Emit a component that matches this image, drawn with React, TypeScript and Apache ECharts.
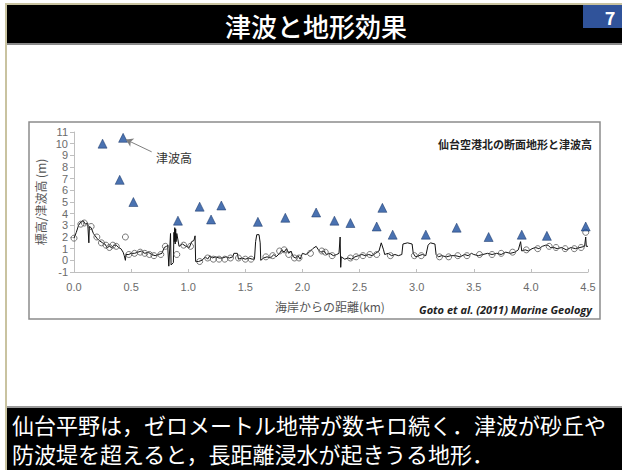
import React, { useEffect, useRef } from "react";
import * as echarts from "echarts";

// Ground elevation profile along the transect: [distance from coast (km), elevation (m)]
const terrainProfile: [number, number][] = [
  [0.0, 1.9], [0.02, 2.4], [0.04, 3.0], [0.06, 3.3], [0.08, 3.4], [0.1, 3.1], [0.12, 3.2],
  [0.13, 1.5], [0.135, 2.9], [0.15, 2.8], [0.17, 2.3], [0.2, 1.9], [0.22, 1.7], [0.25, 1.5],
  [0.27, 1.4], [0.29, 1.1], [0.31, 1.2], [0.33, 1.1], [0.35, 1.3], [0.37, 1.3], [0.39, 1.1],
  [0.41, 1.0], [0.43, 0.7], [0.44, 0.4], [0.45, 0.0], [0.455, 0.5], [0.48, 0.5], [0.5, 0.6],
  [0.53, 0.6], [0.56, 0.7], [0.59, 0.8], [0.62, 0.6], [0.65, 0.7], [0.68, 0.5], [0.71, 0.4],
  [0.74, 0.5], [0.77, 0.6], [0.79, 1.1], [0.81, 1.2], [0.82, 1.3], [0.83, -0.5], [0.845, 2.3],
  [0.85, -0.4], [0.87, -0.2], [0.875, 2.4], [0.878, 1.6], [0.882, 2.8], [0.886, 1.4], [0.89, 2.7],
  [0.894, 1.6], [0.9, 2.3], [0.92, 1.2], [0.95, 1.4], [0.98, 1.2], [1.01, 1.1], [1.03, 1.6],
  [1.05, 1.7], [1.06, 2.1], [1.065, -0.1], [1.09, -0.1], [1.12, 0.0], [1.15, 0.3], [1.17, 0.1],
  [1.19, 0.4], [1.21, 0.2], [1.24, 0.3], [1.27, 0.2], [1.3, 0.2], [1.33, 0.3], [1.36, 0.2],
  [1.39, 0.3], [1.4, 0.6], [1.43, 0.6], [1.44, 0.1], [1.47, 0.2], [1.5, 0.1], [1.53, 0.2],
  [1.56, 0.1], [1.58, 0.1], [1.59, 1.6], [1.6, 2.2], [1.62, 2.2], [1.63, 1.5], [1.635, 0.0],
  [1.66, 0.2], [1.69, 0.3], [1.72, 0.2], [1.75, 0.5], [1.77, 0.3], [1.8, 0.6], [1.82, 0.9],
  [1.84, 0.7], [1.86, 1.0], [1.88, 0.6], [1.9, 0.8], [1.92, 0.3], [1.94, 0.2], [1.96, 0.4],
  [1.98, 0.1], [2.0, 0.6], [2.03, 0.5], [2.06, 0.7], [2.09, 1.0], [2.12, 1.2], [2.14, 0.9],
  [2.16, 0.7], [2.19, 0.8], [2.21, 0.5], [2.24, 0.6], [2.27, 0.4], [2.3, 0.5], [2.32, 0.6],
  [2.33, 2.0], [2.335, -0.6], [2.34, 0.3], [2.37, 0.1], [2.4, 0.2], [2.43, 0.1], [2.46, 0.3],
  [2.49, 0.4], [2.52, 0.5], [2.55, 0.4], [2.58, 0.5], [2.61, 0.4], [2.64, 0.6], [2.67, 0.8],
  [2.69, 1.5], [2.71, 0.9], [2.72, 0.5], [2.75, 0.6], [2.78, 0.4], [2.81, 0.5], [2.84, 0.4],
  [2.87, 0.5], [2.88, 1.4], [2.92, 1.5], [2.96, 1.4], [2.97, 0.6], [2.99, 0.3], [3.02, 0.4],
  [3.05, 0.5], [3.08, 0.4], [3.1, 1.3], [3.12, 1.5], [3.16, 1.4], [3.17, 0.5], [3.19, 0.3],
  [3.22, 0.4], [3.26, 0.3], [3.3, 0.4], [3.34, 0.4], [3.38, 0.3], [3.42, 0.5], [3.45, 0.4],
  [3.48, 0.6], [3.5, 0.5], [3.54, 0.4], [3.58, 0.5], [3.62, 0.6], [3.66, 0.5], [3.7, 0.6],
  [3.74, 0.5], [3.78, 0.7], [3.82, 0.6], [3.86, 0.7], [3.89, 0.9], [3.91, 1.6], [3.92, 0.8],
  [3.95, 0.9], [3.98, 0.8], [4.01, 1.0], [4.04, 1.1], [4.07, 1.0], [4.1, 1.2], [4.13, 1.3],
  [4.15, 1.3], [4.17, 1.1], [4.2, 1.1], [4.23, 1.0], [4.27, 1.1], [4.31, 0.9], [4.35, 1.1],
  [4.39, 1.0], [4.43, 1.1], [4.47, 1.2], [4.48, 2.0], [4.485, 1.2], [4.5, 1.2],
];

// Surveyed ground points (open circles)
const surveyPoints: [number, number][] = [
  [0.0, 1.9], [0.06, 3.1], [0.09, 3.2], [0.15, 2.9], [0.2, 2.0], [0.24, 1.5], [0.28, 1.3],
  [0.31, 1.1], [0.34, 1.3], [0.37, 1.2], [0.45, 2.0], [0.48, 0.5], [0.53, 0.6], [0.58, 0.7],
  [0.62, 0.6], [0.66, 0.5], [0.7, 0.4], [0.76, 0.5], [0.8, 1.2], [0.9, 0.5], [0.96, 1.3],
  [1.02, 1.2], [1.1, -0.1], [1.17, 0.2], [1.22, 0.1], [1.27, 0.1], [1.32, 0.1], [1.37, 0.2],
  [1.44, 0.2], [1.5, 0.1], [1.55, 0.1], [1.68, 0.3], [1.74, 0.4], [1.8, 0.8], [1.84, 0.9],
  [1.88, 0.5], [1.93, 0.2], [1.97, 0.2], [2.07, 0.6], [2.17, 0.8], [2.2, 0.7], [2.26, 0.4],
  [2.42, 0.2], [2.47, 0.3], [2.53, 0.4], [2.59, 0.5], [2.65, 0.5], [2.77, 0.4], [2.98, 0.4],
  [3.04, 0.4], [3.2, 0.3], [3.28, 0.3], [3.36, 0.4], [3.44, 0.4], [3.55, 0.5], [3.66, 0.5],
  [3.74, 0.6], [3.84, 0.7], [3.96, 0.9], [4.06, 1.0], [4.16, 1.2], [4.22, 1.1], [4.3, 1.0],
  [4.38, 1.0], [4.44, 1.1], [4.48, 2.4],
];

// Measured tsunami heights (triangles)
const tsunamiHeights: [number, number][] = [
  [0.25, 10.0], [0.4, 6.9], [0.43, 10.5], [0.52, 5.0], [0.91, 3.4], [1.1, 4.6], [1.2, 3.5],
  [1.29, 4.7], [1.61, 3.3], [1.85, 3.65], [2.12, 4.1], [2.28, 3.4], [2.42, 3.2], [2.65, 2.9],
  [2.7, 4.5], [2.79, 2.2], [3.08, 2.2], [3.35, 2.8], [3.63, 2.0], [3.92, 2.2], [4.14, 2.1],
  [4.48, 2.9],
];

// Arrow from the label to the highest tsunami mark
const arrowFrom: [number, number] = [0.68, 9.3];
const arrowTo: [number, number] = [0.455, 10.35];

const slideTitle = "津波と地形効果";
const pageNumber = "7";
const chartTitle = "仙台空港北の断面地形と津波高";
const xAxisName = "海岸からの距離(km)";
const yAxisName = "標高/津波高 (m)";
const arrowLabel = "津波高";
const sourceNote = "Goto et al. (2011) Marine Geology";
const captionLines = [
  "仙台平野は，ゼロメートル地帯が数キロ続く．津波が砂丘や",
  "防波堤を超えると，長距離浸水が起きうる地形．",
];

const JP = '"Noto Sans CJK JP", "Noto Sans", sans-serif';

export default function App() {
  const ref = useRef<HTMLDivElement>(null);

  useEffect(() => {
    if (!ref.current) return;
    const chart = echarts.init(ref.current, null, { renderer: "svg" });

    chart.setOption({
      animation: false,
      backgroundColor: "#ffffff",
      grid: { left: 74, right: 34, top: 132, bottom: 198, containLabel: false },
      xAxis: {
        type: "value",
        min: 0,
        max: 4.5,
        interval: 0.5,
        axisLine: { onZero: false, lineStyle: { color: "#bfbfbf", width: 1 } },
        axisTick: { show: true, inside: true, length: 3, lineStyle: { color: "#bfbfbf" } },
        splitLine: { show: false },
        axisLabel: {
          color: "#6b6b6b",
          fontFamily: "Arial, Liberation Sans, sans-serif",
          fontSize: 11,
          margin: 9,
          formatter: (v: number) => v.toFixed(1),
        },
      },
      yAxis: {
        type: "value",
        min: -1,
        max: 11,
        interval: 1,
        axisLine: { show: true, lineStyle: { color: "#bfbfbf", width: 1 } },
        axisTick: { show: true, length: 4, lineStyle: { color: "#bfbfbf" } },
        splitLine: { show: false },
        axisLabel: {
          color: "#6b6b6b",
          fontFamily: "Arial, Liberation Sans, sans-serif",
          fontSize: 11,
          margin: 6,
        },
      },
      series: [
        {
          type: "line",
          data: terrainProfile,
          showSymbol: false,
          symbol: "none",
          lineStyle: { color: "#111111", width: 1 },
          z: 2,
        },
        {
          type: "scatter",
          data: surveyPoints,
          symbol: "circle",
          symbolSize: 6,
          itemStyle: { color: "rgba(255,255,255,0)", borderColor: "#555555", borderWidth: 1 },
          z: 3,
        },
        {
          type: "scatter",
          data: tsunamiHeights,
          symbol: "triangle",
          symbolSize: 9,
          itemStyle: { color: "#1d4f9e", borderColor: "#0d2a5c", borderWidth: 0.6 },
          z: 4,
          markLine: {
            silent: true,
            symbol: ["none", "arrow"],
            symbolSize: 7,
            label: { show: false },
            lineStyle: { color: "#7f7f7f", width: 1, type: "solid" },
            data: [[{ coord: arrowFrom }, { coord: arrowTo }]],
          },
        },
      ],
      graphic: [
        // slide frame
        { type: "rect", shape: { x: 5, y: 3, width: 617, height: 2 }, style: { fill: "#c9c3a0" }, silent: true },
        { type: "rect", shape: { x: 5, y: 3, width: 2, height: 467 }, style: { fill: "#c9c3a0" }, silent: true },
        // title bar
        { type: "rect", shape: { x: 7, y: 5, width: 615, height: 38 }, style: { fill: "#000000" } },
        { type: "rect", shape: { x: 7, y: 43, width: 615, height: 2 }, style: { fill: "#8a8a8a" } },
        { type: "rect", shape: { x: 583, y: 5, width: 39, height: 23 }, style: { fill: "#30539a" } },
        {
          type: "text",
          x: 610,
          y: 17,
          style: {
            text: pageNumber,
            fill: "#ffffff",
            font: `bold 18px ${JP}`,
            align: "center",
            verticalAlign: "middle",
          },
        },
        {
          type: "text",
          x: 316,
          y: 25,
          style: {
            text: slideTitle,
            fill: "#ffffff",
            font: `500 26px ${JP}`,
            align: "center",
            verticalAlign: "middle",
          },
        },
        // chart frame
        {
          type: "rect",
          shape: { x: 29, y: 122, width: 571, height: 197 },
          style: { fill: "none", stroke: "#8c8c8c", lineWidth: 1.5 },
          z: -1,
        },
        {
          type: "text",
          x: 592,
          y: 144,
          style: {
            text: chartTitle,
            fill: "#222222",
            font: `bold 11px ${JP}`,
            align: "right",
            verticalAlign: "middle",
          },
        },
        {
          type: "text",
          x: 156,
          y: 157,
          style: {
            text: arrowLabel,
            fill: "#333333",
            font: `12px ${JP}`,
            align: "left",
            verticalAlign: "middle",
          },
        },
        {
          // y-axis name, reading bottom to top
          type: "text",
          x: 40,
          y: 202,
          rotation: Math.PI / 2,
          style: {
            text: yAxisName,
            fill: "#555555",
            font: `12px ${JP}`,
            align: "center",
            verticalAlign: "middle",
          },
        },
        {
          type: "text",
          x: 330,
          y: 306,
          style: {
            text: xAxisName,
            fill: "#555555",
            font: `12px ${JP}`,
            align: "center",
            verticalAlign: "middle",
          },
        },
        {
          type: "text",
          x: 592,
          y: 309,
          style: {
            text: sourceNote,
            fill: "#222222",
            font: `italic bold 11px "Open Sans", "Liberation Sans", sans-serif`,
            align: "right",
            verticalAlign: "middle",
          },
        },
        // caption bar
        { type: "rect", shape: { x: 7, y: 406, width: 615, height: 2 }, style: { fill: "#9a9a9a" } },
        { type: "rect", shape: { x: 7, y: 408, width: 615, height: 62 }, style: { fill: "#000000" } },
        ...captionLines.map((line, i) => ({
          type: "text",
          x: 12,
          y: 424 + i * 29,
          style: {
            text: line,
            fill: "#ffffff",
            font: `22px ${JP}`,
            align: "left",
            verticalAlign: "middle",
          },
        })),
      ],
    });

    return () => chart.dispose();
  }, []);

  return (
    <div
      ref={ref}
      style={{ position: "fixed", left: 0, top: 0, width: 622, height: 470, background: "#ffffff" }}
    />
  );
}
